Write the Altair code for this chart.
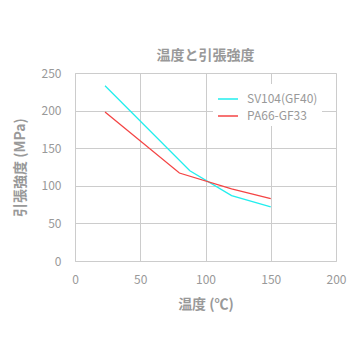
import altair as alt
import pandas as pd

series_names = ["SV104(GF40)", "PA66-GF33"]
sv_temp = [23, 88, 120, 150]
sv_strength = [233, 120, 87, 72]
pa_temp = [23, 80, 120, 150]
pa_strength = [198, 117, 96, 83]

rows = []
for t, s in zip(sv_temp, sv_strength):
    rows.append({"temp": t, "strength": s, "series": series_names[0]})
for t, s in zip(pa_temp, pa_strength):
    rows.append({"temp": t, "strength": s, "series": series_names[1]})
df = pd.DataFrame(rows)

FONT = "Noto Sans CJK JP"
GRAY = "#999999"

axis_style = dict(
    labelFont=FONT, labelFontSize=12, labelColor=GRAY, labelFlush=False,
    titleFont=FONT, titleFontSize=14, titleFontWeight="bold", titleColor=GRAY,
    gridColor="#cccccc", domainColor="#cccccc", ticks=False,
)

chart = alt.Chart(df).mark_line(strokeWidth=1.3).encode(
    x=alt.X("temp:Q", title="温度 (℃)",
            scale=alt.Scale(domain=[0, 200], nice=False),
            axis=alt.Axis(values=[0, 50, 100, 150, 200], labelPadding=13, titlePadding=12,
                          **axis_style)),
    y=alt.Y("strength:Q", title="引張強度 (MPa)",
            scale=alt.Scale(domain=[0, 250], nice=False),
            axis=alt.Axis(values=[0, 50, 100, 150, 200, 250], labelPadding=14, titlePadding=14,
                          **axis_style)),
    color=alt.Color("series:N", sort=series_names,
                    scale=alt.Scale(domain=series_names, range=["#22eeee", "#f44444"]),
                    legend=alt.Legend(title=None, orient="none", legendX=138, legendY=11,
                                      symbolType="stroke", symbolSize=400, symbolStrokeWidth=1.5,
                                      labelFont=FONT, labelFontSize=12, labelColor=GRAY,
                                      labelOffset=8, fillColor="white", padding=4, rowPadding=-4)),
    order="temp:Q",
).properties(
    width=261, height=188,
    padding={"left": 13, "top": 49, "right": 5, "bottom": 5},
    title=alt.TitleParams("温度と引張強度", font=FONT, fontSize=14, fontWeight="bold",
                          color=GRAY, anchor="middle", offset=4),
).configure_view(stroke="#cccccc").configure(background="white")

chart.save("out.html", embed_options={"renderer": "svg", "actions": False})
